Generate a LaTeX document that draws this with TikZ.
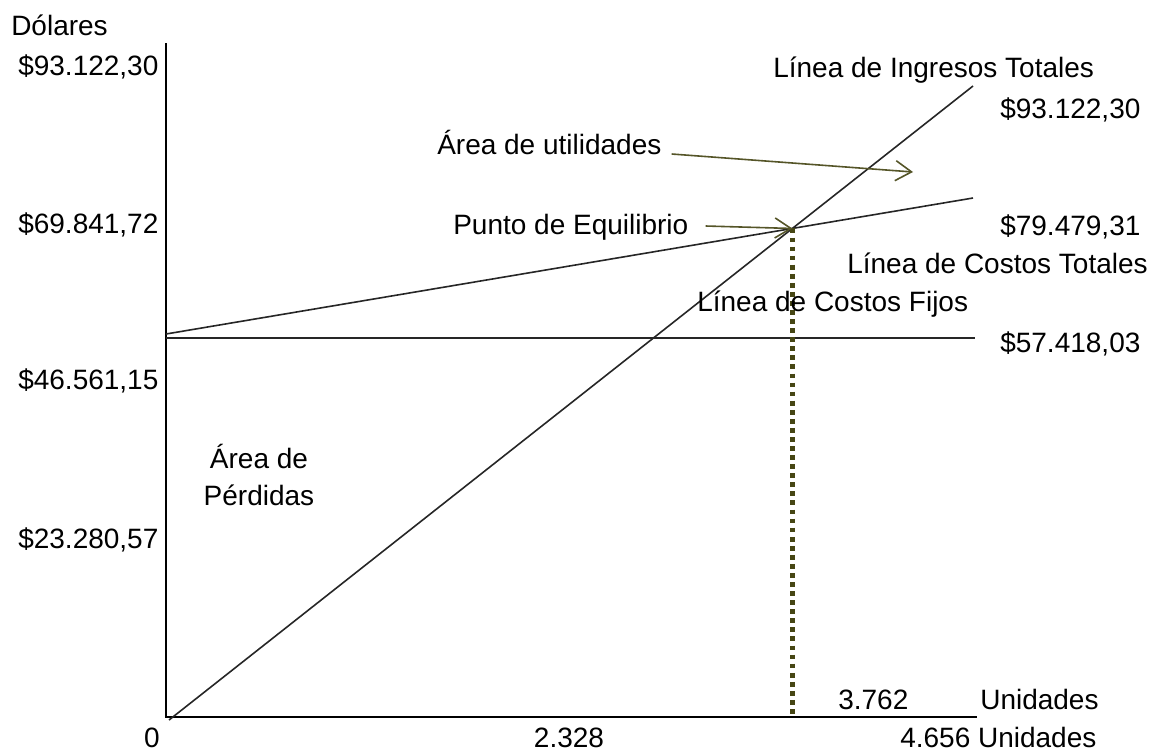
\documentclass[tikz,border=0pt]{standalone}
\usepackage{fontspec}
\setmainfont{Liberation Sans}
\usetikzlibrary{arrows.meta}
\definecolor{arrowolive}{RGB}{85, 85, 40}
\definecolor{dotolive}{RGB}{70, 70, 20}

\begin{document}
\begin{tikzpicture}[
    x=0.75pt, y=-0.75pt,
    lbl/.style={inner sep=0pt, anchor=base west, font=\fontsize{21}{27.75}\selectfont},
    axis/.style={line width=1.5pt, black},
    curve/.style={line width=1.2pt, black!85},
    arrow/.style={-{Straight Barb[length=12pt,width=15pt]}, line width=1.2pt, arrowolive},
    equil/.style={line width=3.2pt, dotolive, dash pattern=on 3.6pt off 3.2pt}
]
    \useasboundingbox (0,0) rectangle (1162,751);

    % axes
    \coordinate (origin) at (166,717);
    \coordinate (ytop) at (166,43);
    \coordinate (xend) at (977,717);
    \draw[axis] (ytop) -- (origin) -- (xend);

    % lines
    \coordinate (ingA) at (169,720);
    \coordinate (ingB) at (973,86);
    \coordinate (ctA) at (166,334);
    \coordinate (ctB) at (973,198);
    \coordinate (cfA) at (166,338);
    \coordinate (cfB) at (975,338);
    \draw[curve] (ingA) -- (ingB);
    \draw[curve] (ctA) -- (ctB);
    \draw[curve] (cfA) -- (cfB);
    \coordinate (pe) at (intersection of ingA--ingB and ctA--ctB);
    \draw[equil] (pe) -- (pe |- origin);

    % y labels
    \node[lbl] (dolares) at (11,35) {Dólares};
    \node[lbl] (y4) at (18,75) {\$93.122,30};
    \node[lbl] (y3) at (18,233) {\$69.841,72};
    \node[lbl] (y2) at (18,389) {\$46.561,15};
    \node[lbl] (y1) at (18,548) {\$23.280,57};

    % x labels
    \node[lbl, anchor=base] (x0) at (152,747) {0};
    \node[lbl, anchor=base] (x1) at (569,747) {2.328};
    \node[lbl] (x2) at (900,747) {4.656 Unidades};
    \node[lbl] (xpe) at (838,709) {3.762};
    \node[lbl] (xunit) at (980,709) {Unidades};

    % right labels
    \node[lbl] (ingtxt) at (773,77) {Línea de Ingresos Totales};
    \node[lbl] (ingval) at (1000,118) {\$93.122,30};
    \node[lbl] (cttxt) at (847,273) {Línea de Costos Totales};
    \node[lbl] (ctval) at (1000,235) {\$79.479,31};
    \node[lbl] (cftxt) at (697,311) {Línea de Costos Fijos};
    \node[lbl] (cfval) at (1000,352) {\$57.418,03};

    % areas
    \node[lbl] (util) at (437,154) {Área de utilidades};
    \node[lbl] (equi) at (453,234) {Punto de Equilibrio};
    \node[lbl, anchor=north, align=center] (perd) at (259,444) {Área de\\Pérdidas};

    \coordinate (utiltip) at (913,172);
    \draw[arrow] ([xshift=7.5pt]util.base east) -- (utiltip);
    \draw[arrow] ([xshift=12.75pt, yshift=6pt]equi.base east) -- (pe);
\end{tikzpicture}
\end{document}
